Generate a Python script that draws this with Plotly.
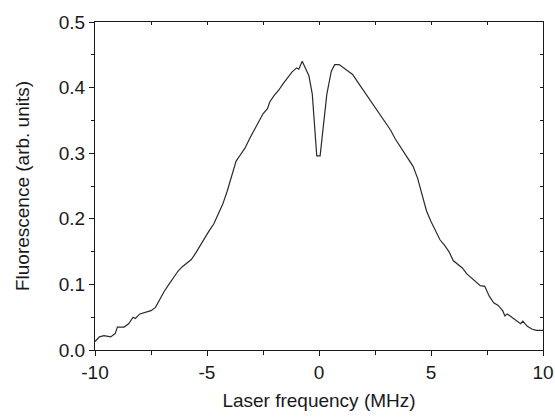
import plotly.graph_objects as go

freq_mhz = [-10.0, -9.8, -9.6, -9.3, -9.1, -9.0, -8.7, -8.5, -8.3, -8.2, -8.0, -7.8, -7.5, -7.3,
            -7.1, -6.9, -6.7, -6.5, -6.3, -6.1, -5.9, -5.7, -5.5, -5.3, -5.1, -4.9, -4.7,
            -4.5, -4.3, -4.1, -3.9, -3.7, -3.5, -3.3, -3.1, -2.9, -2.7, -2.5, -2.3, -2.2,
            -2.0, -1.8, -1.6, -1.4, -1.2, -1.0, -0.9, -0.75, -0.6, -0.45, -0.3, -0.2, -0.1,
            0.05, 0.2, 0.35, 0.55, 0.7, 0.9, 1.1, 1.3, 1.5, 1.7, 1.9, 2.1, 2.3, 2.5, 2.7,
            2.9, 3.0, 3.2, 3.4, 3.6, 3.8, 4.0, 4.2, 4.4, 4.6, 4.8, 5.0, 5.2, 5.4, 5.6, 5.8,
            6.0, 6.2, 6.4, 6.6, 6.8, 7.0, 7.2, 7.4, 7.6, 7.8, 8.0, 8.2, 8.3, 8.4, 8.6, 8.8,
            9.0, 9.1, 9.3, 9.5, 9.7, 10.0]
fluorescence = [0.013, 0.02, 0.022, 0.02, 0.025, 0.035, 0.035, 0.04, 0.05, 0.048, 0.055, 0.057,
                0.06, 0.065, 0.078, 0.09, 0.1, 0.11, 0.12, 0.127, 0.132, 0.138, 0.148, 0.16,
                0.172, 0.182, 0.192, 0.208, 0.222, 0.242, 0.265, 0.288, 0.298, 0.308, 0.322,
                0.335, 0.346, 0.36, 0.368, 0.378, 0.388, 0.396, 0.406, 0.416, 0.424, 0.43,
                0.428, 0.44, 0.43, 0.418, 0.39, 0.34, 0.296, 0.296, 0.34, 0.39, 0.425, 0.435,
                0.435, 0.43, 0.426, 0.42, 0.41, 0.4, 0.39, 0.38, 0.372, 0.362, 0.352, 0.345,
                0.335, 0.322, 0.312, 0.302, 0.292, 0.28, 0.262, 0.238, 0.212, 0.196, 0.182,
                0.168, 0.16, 0.15, 0.136, 0.13, 0.125, 0.116, 0.11, 0.105, 0.098, 0.097, 0.082,
                0.072, 0.068, 0.06, 0.052, 0.055, 0.05, 0.045, 0.04, 0.044, 0.036, 0.032, 0.03,
                0.03]

x_ticks = [-10, -5, 0, 5, 10]
y_ticks = [0.0, 0.1, 0.2, 0.3, 0.4, 0.5]

ink = "#1a1a1a"
tick_font = dict(family="Liberation Sans, Arial, sans-serif", size=19, color=ink)
title_font = dict(family="Liberation Sans, Arial, sans-serif", size=19, color=ink)

fig = go.Figure()
fig.add_trace(go.Scatter(x=freq_mhz, y=fluorescence, mode="lines",
                         line=dict(color="#2a2a2a", width=1.2), showlegend=False,
                         hoverinfo="skip"))
# invisible copy on the top/right axes so their inside ticks are drawn
fig.add_trace(go.Scatter(x=freq_mhz, y=fluorescence, xaxis="x2", yaxis="y2",
                         mode="lines", line=dict(width=0), opacity=0,
                         showlegend=False, hoverinfo="skip"))

fig.update_layout(
    width=555, height=418,
    margin=dict(l=95, r=12, t=22, b=68),
    paper_bgcolor="white", plot_bgcolor="white",
    xaxis=dict(range=[-10, 10], tickvals=x_ticks, ticktext=[str(v) for v in x_ticks],
               ticks="outside", ticklen=5, tickwidth=1, tickcolor=ink,
               linecolor=ink, linewidth=1.2, showline=True, mirror=True,
               showgrid=False, zeroline=False, automargin=False, tickfont=tick_font,
               minor=dict(ticks="outside", dtick=2.5, tick0=0, ticklen=4, tickcolor=ink),
               title=dict(text="Laser frequency (MHz)", font=title_font, standoff=11)),
    yaxis=dict(range=[0, 0.5], tickvals=y_ticks, tickformat=".1f",
               ticks="outside", ticklen=5, tickwidth=1, tickcolor=ink,
               linecolor=ink, linewidth=1.2, showline=True, mirror=True,
               showgrid=False, zeroline=False, automargin=False, tickfont=tick_font,
               minor=dict(ticks="outside", dtick=0.05, tick0=0, ticklen=3, tickcolor=ink),
               title=dict(text="Fluorescence (arb. units)", font=title_font, standoff=24)),
    xaxis2=dict(overlaying="x", side="top", range=[-10, 10], tickvals=x_ticks,
                showticklabels=False, ticks="inside", ticklen=3, tickcolor=ink,
                showline=False, showgrid=False, zeroline=False, automargin=False,
                minor=dict(ticks="inside", dtick=2.5, tick0=0, ticklen=3, tickcolor=ink)),
    yaxis2=dict(overlaying="y", side="right", range=[0, 0.5], tickvals=y_ticks,
                showticklabels=False, ticks="inside", ticklen=3, tickcolor=ink,
                showline=False, showgrid=False, zeroline=False, automargin=False,
                minor=dict(ticks="inside", dtick=0.05, tick0=0, ticklen=3, tickcolor=ink)),
)

fig.write_html("out.html", config={"displayModeBar": False},
               post_script="document.body.style.margin='0';document.body.style.overflow='hidden';")
